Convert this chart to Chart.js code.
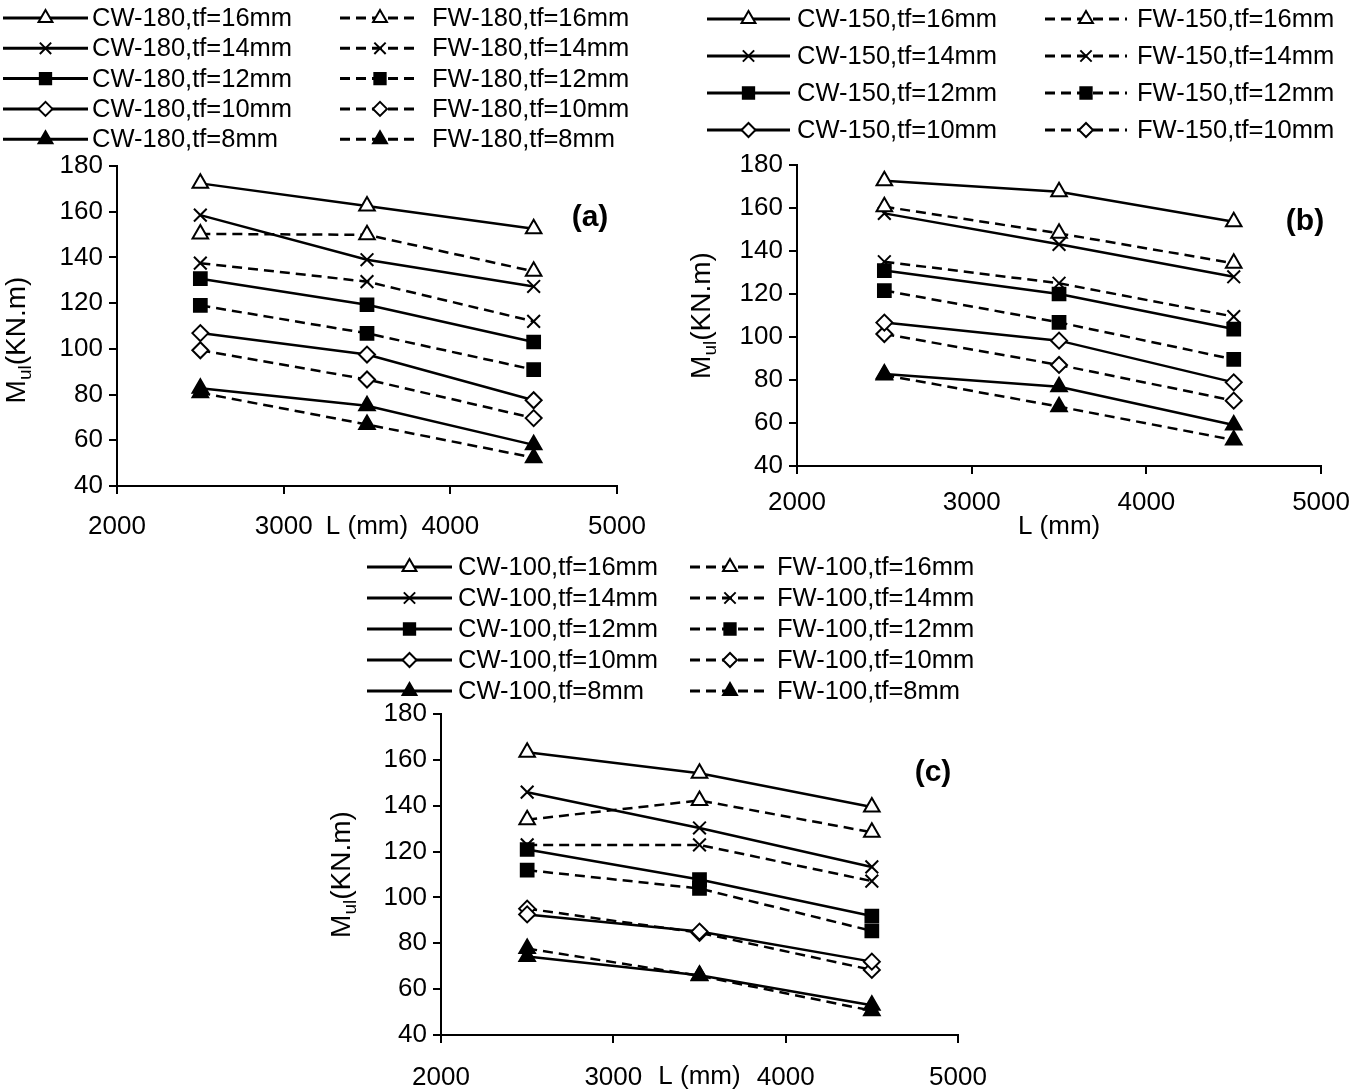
<!DOCTYPE html>
<html>
<head>
<meta charset="utf-8">
<title>Mul vs L</title>
<script src="https://cdn.jsdelivr.net/npm/chart.js@4"></script>
<style>
  body { margin: 0; background: #fff; width: 1363px; height: 1092px; position: relative; overflow: hidden; }
  canvas { position: absolute; }
</style>
</head>
<body>
<canvas id="ca" style="left:0;top:0" width="680" height="550"></canvas>
<canvas id="cb" style="left:690px;top:0" width="673" height="550"></canvas>
<canvas id="cc" style="left:310px;top:550px" width="730" height="542"></canvas>
<script>
// beam lengths (x) and flange thicknesses (one series per tf)
const lengths = [2500, 3500, 4500];
const tfValues = [16, 14, 12, 10, 8];

// Mul (kN.m), rows follow tfValues
const cw180 = [[172.4, 162.5, 152.5], [158.5, 139.0, 127.3], [130.7, 119.3, 103.0], [106.9, 97.5, 77.5], [82.8, 75.1, 58.0]];
const fw180 = [[150.3, 149.9, 133.9], [137.5, 129.4, 112.0], [119.0, 106.8, 90.9], [99.4, 86.6, 69.7], [80.8, 66.9, 52.4]];
const cw150 = [[172.7, 167.6, 153.6], [157.5, 143.1, 128.0], [130.9, 120.0, 103.7], [106.7, 98.3, 78.9], [82.8, 76.9, 59.1]];
const fw150 = [[160.6, 148.2, 134.3], [135.0, 125.0, 109.5], [121.6, 106.8, 89.6], [101.4, 87.0, 70.4], [82.3, 67.6, 52.1]];
const cw100 = [[163.3, 154.2, 139.4], [145.9, 130.3, 113.3], [120.9, 107.8, 91.9], [92.6, 85.1, 72.0], [74.2, 66.1, 53.0]];
const fw100 = [[133.9, 142.3, 128.4], [122.9, 122.9, 107.1], [111.9, 103.9, 85.4], [95.1, 84.6, 68.4], [77.7, 65.8, 50.6]];

const FONT = "'Liberation Sans', Arial, sans-serif";
const DASH = [10, 6];

// marker per tf: [pointStyle, fill, radius]
const markers = [
  ['triangle', '#fff', 9],
  ['crossRot', '#000', 9],
  ['rect', '#000', 9],
  ['rectRot', '#fff', 8],
  ['triangle', '#000', 9]
];

function drawMarker(ctx, style, fill, x, y, r) {
  ctx.save();
  ctx.setLineDash([]);
  ctx.fillStyle = fill;
  ctx.strokeStyle = '#000';
  ctx.lineWidth = 2;
  if (Chart.helpers && Chart.helpers.drawPoint) {
    Chart.helpers.drawPoint(ctx, { pointStyle: style, radius: r, rotation: 0, borderWidth: 2 }, x, y);
  }
  ctx.restore();
}

const panelDecor = {
  id: 'panelDecor',
  afterDraw(chart, args, o) {
    const ctx = chart.ctx;
    ctx.save();
    // legend
    o.legendRows.forEach((row, i) => {
      const y = o.legendY + i * o.legendStep;
      [0, 1].forEach((c) => {
        const col = o.legendCols[c];
        ctx.strokeStyle = '#000';
        ctx.lineWidth = 3;
        ctx.setLineDash(c === 0 ? [] : DASH);
        ctx.beginPath();
        ctx.moveTo(col[0], y);
        ctx.lineTo(col[1], y);
        ctx.stroke();
        drawMarker(ctx, markers[i][0], markers[i][1], (col[0] + col[1]) / 2, y, markers[i][2] - 1);
        ctx.setLineDash([]);
        ctx.fillStyle = '#000';
        ctx.font = '25.5px ' + FONT;
        ctx.textAlign = 'left';
        ctx.textBaseline = 'middle';
        ctx.fillText(row[c], col[2], y + 1);
      });
    });
    // panel tag
    ctx.font = 'bold 30px ' + FONT;
    ctx.textAlign = 'center';
    ctx.textBaseline = 'middle';
    ctx.fillText(o.tag[0], o.tag[1], o.tag[2]);
    // y title with subscript
    const a = chart.chartArea;
    ctx.translate(o.yTitleX, (a.top + a.bottom) / 2 + o.yTitleDy);
    ctx.rotate(-Math.PI / 2);
    ctx.textBaseline = 'alphabetic';
    ctx.textAlign = 'left';
    ctx.font = '28px ' + FONT;
    const wM = ctx.measureText('M').width;
    ctx.font = '19px ' + FONT;
    const wS = ctx.measureText('ul').width;
    ctx.font = '28px ' + FONT;
    const wR = ctx.measureText('(KN.m)').width;
    const x0 = -(wM + wS + wR) / 2;
    ctx.fillText('M', x0, 10);
    ctx.font = '19px ' + FONT;
    ctx.fillText('ul', x0 + wM, 16);
    ctx.font = '28px ' + FONT;
    ctx.fillText('(KN.m)', x0 + wM + wS, 10);
    ctx.restore();
  }
};

function buildDatasets(cw, fw) {
  const sets = [];
  tfValues.forEach((tf, i) => {
    [[cw[i], []], [fw[i], DASH]].forEach(([vals, dash]) => {
      sets.push({
        data: lengths.map((L, k) => ({ x: L, y: vals[k] })),
        borderColor: '#000',
        borderWidth: 2.5,
        borderDash: dash,
        pointStyle: markers[i][0],
        pointBackgroundColor: markers[i][1],
        pointBorderColor: '#000',
        pointBorderWidth: 2,
        pointRadius: markers[i][2],
        tension: 0,
        fill: false
      });
    });
  });
  return sets;
}

function makePanel(id, cw, fw, p) {
  const tickFont = { family: FONT, size: 26 };
  const legendRows = tfValues.slice(0, p.legendCount).map((tf) => [
    'CW-' + p.web + ',tf=' + tf + 'mm',
    'FW-' + p.web + ',tf=' + tf + 'mm'
  ]);
  new Chart(document.getElementById(id), {
    type: 'line',
    data: { datasets: buildDatasets(cw, fw) },
    options: {
      responsive: false,
      animation: false,
      layout: { padding: { top: p.top, right: p.right, left: 0, bottom: 0 } },
      plugins: {
        legend: { display: false },
        tooltip: { enabled: false },
        panelDecor: {
          legendRows: legendRows,
          legendY: p.legendY,
          legendStep: p.legendStep,
          legendCols: p.legendCols,
          tag: p.tag,
          yTitleX: p.yTitleX,
          yTitleDy: p.yTitleDy
        }
      },
      scales: {
        x: {
          type: 'linear',
          min: 2000,
          max: 5000,
          ticks: { stepSize: 1000, padding: p.xPad, font: tickFont, color: '#000', callback: (v) => String(v) },
          grid: { drawOnChartArea: false, drawTicks: true, tickLength: 8, color: '#000', lineWidth: 2 },
          border: { color: '#000', width: 2 },
          title: { display: true, text: 'L (mm)', font: tickFont, color: '#000', padding: { top: 0, bottom: p.titlePad } },
          afterFit: (s) => { s.height = p.xHeight; }
        },
        y: {
          min: 40,
          max: 180,
          ticks: { stepSize: 20, padding: 6, font: tickFont, color: '#000' },
          grid: { drawOnChartArea: false, drawTicks: true, tickLength: 8, color: '#000', lineWidth: 2 },
          border: { color: '#000', width: 2 },
          afterFit: (s) => { s.width = p.yWidth; }
        }
      }
    },
    plugins: [panelDecor]
  });
}

makePanel('ca', cw180, fw180, {
  web: 180, legendCount: 5, legendY: 18, legendStep: 30.3,
  legendCols: [[3, 88, 92], [340, 420, 432]],
  top: 166, right: 63, yWidth: 117, xHeight: 64, xPad: 17, titlePad: 8,
  tag: ['(a)', 590, 218], yTitleX: 15, yTitleDy: 14
});
makePanel('cb', cw150, fw150, {
  web: 150, legendCount: 4, legendY: 19, legendStep: 37,
  legendCols: [[17, 100, 107], [355, 437, 447]],
  top: 165, right: 32, yWidth: 107, xHeight: 84, xPad: 13, titlePad: 8,
  tag: ['(b)', 615, 222], yTitleX: 10, yTitleDy: 0
});
makePanel('cc', cw100, fw100, {
  web: 100, legendCount: 5, legendY: 17, legendStep: 31,
  legendCols: [[57, 142, 148], [380, 460, 467]],
  top: 164, right: 82, yWidth: 131, xHeight: 57, xPad: 19, titlePad: 0,
  tag: ['(c)', 623, 223], yTitleX: 30, yTitleDy: 0
});
</script>
</body>
</html>
